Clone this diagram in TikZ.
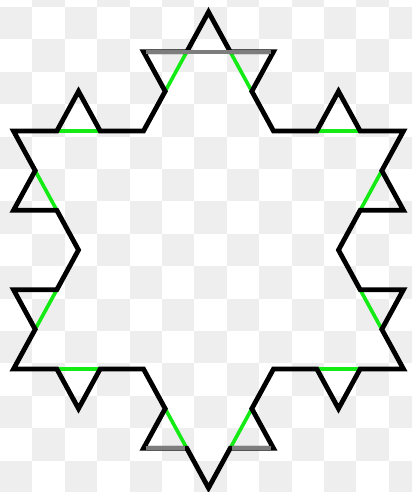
\documentclass[tikz,border=0pt]{standalone}
\definecolor{kgreen}{RGB}{20,235,20}
\definecolor{kgrey}{RGB}{125,125,125}
\definecolor{checker}{RGB}{238,238,238}
\begin{document}
\begin{tikzpicture}[x=1pt,y=1pt,
  koch/.style={line width=4.8pt, black, line join=miter},
  basel/.style={line width=3.6pt, kgreen},
  greyl/.style={line width=4.2pt, kgrey}]
\useasboundingbox (0,0) rectangle (412,492);
\begin{scope}
  \clip (0,0) rectangle (412,492);
  \foreach \i in {0,...,12} {
    \foreach \j in {-1,...,14} {
      \pgfmathtruncatemacro\ckpar{mod(\i+\j+2,2)}
      \ifnum\ckpar=0
        \fill[checker] ({32.4*\i},{485-32.4*(\j+1)}) rectangle ({32.4*(\i+1)},{485-32.4*\j});
      \fi
    }
  }
\end{scope}
\begin{scope}[shift={(208.5,242)}, xscale=0.946]
  % bases of the bumps (level-1 middle thirds)
  \draw[basel] (-22.90,198.33)--(-45.80,158.67);
  \draw[basel] (-114.51,119)--(-160.31,119);
  \draw[basel] (-183.21,79.33)--(-160.31,39.67);
  \draw[basel] (-160.31,-39.67)--(-183.21,-79.33);
  \draw[basel] (-160.31,-119)--(-114.51,-119);
  \draw[basel] (-45.80,-158.67)--(-22.90,-198.33);
  \draw[basel] (22.90,-198.33)--(45.80,-158.67);
  \draw[basel] (114.51,-119)--(160.31,-119);
  \draw[basel] (183.21,-79.33)--(160.31,-39.67);
  \draw[basel] (160.31,39.67)--(183.21,79.33);
  \draw[basel] (160.31,119)--(114.51,119);
  \draw[basel] (45.80,158.67)--(22.90,198.33);
  % Koch snowflake, level 2
  \draw[koch] (0,238) -- (-22.90,198.33) -- (-68.71,198.33) -- (-45.80,158.67) -- (-68.71,119)
   -- (-114.51,119) -- (-137.41,158.67) -- (-160.31,119) -- (-206.11,119)
   -- (-183.21,79.33) -- (-206.11,39.67) -- (-160.31,39.67) -- (-137.41,0)
   -- (-160.31,-39.67) -- (-206.11,-39.67) -- (-183.21,-79.33) -- (-206.11,-119)
   -- (-160.31,-119) -- (-137.41,-158.67) -- (-114.51,-119) -- (-68.71,-119)
   -- (-45.80,-158.67) -- (-68.71,-198.33) -- (-22.90,-198.33) -- (0,-238)
   -- (22.90,-198.33) -- (68.71,-198.33) -- (45.80,-158.67) -- (68.71,-119)
   -- (114.51,-119) -- (137.41,-158.67) -- (160.31,-119) -- (206.11,-119)
   -- (183.21,-79.33) -- (206.11,-39.67) -- (160.31,-39.67) -- (137.41,0)
   -- (160.31,39.67) -- (206.11,39.67) -- (183.21,79.33) -- (206.11,119)
   -- (160.31,119) -- (137.41,158.67) -- (114.51,119) -- (68.71,119)
   -- (45.80,158.67) -- (68.71,198.33) -- (22.90,198.33) -- cycle;
  % grey horizontal strokes at the top and bottom bumps
  \draw[greyl] (-66,198.33) -- (66,198.33);
  \draw[greyl] (-66,-198.33) -- (-25,-198.33);
  \draw[greyl] (25,-198.33) -- (66,-198.33);
\end{scope}
\end{tikzpicture}
\end{document}
